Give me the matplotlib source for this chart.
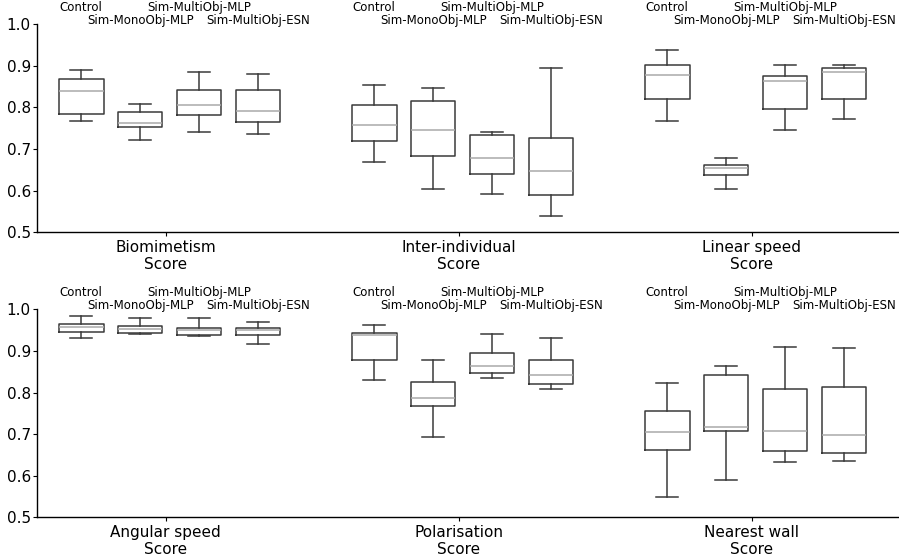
import matplotlib
matplotlib.use('Agg')
import matplotlib.pyplot as plt

# 方法名称（每组四个箱线）
methods = ['Control', 'Sim-MonoObj-MLP', 'Sim-MultiObj-MLP', 'Sim-MultiObj-ESN']

# 每个指标：每行一个方法 (下须, Q1, 中位数, Q3, 上须)
biomimetism = [
    (0.767, 0.784, 0.840, 0.868, 0.889),
    (0.723, 0.752, 0.762, 0.790, 0.808),
    (0.742, 0.783, 0.807, 0.841, 0.885),
    (0.736, 0.765, 0.792, 0.841, 0.881),
]
inter_individual = [
    (0.669, 0.719, 0.759, 0.807, 0.854),
    (0.604, 0.683, 0.745, 0.816, 0.848),
    (0.593, 0.639, 0.679, 0.733, 0.740),
    (0.538, 0.590, 0.647, 0.727, 0.896),
]
linear_speed = [
    (0.767, 0.820, 0.879, 0.901, 0.938),
    (0.603, 0.637, 0.654, 0.661, 0.679),
    (0.746, 0.796, 0.864, 0.876, 0.903),
    (0.773, 0.820, 0.885, 0.896, 0.902),
]
angular_speed = [
    (0.930, 0.946, 0.957, 0.964, 0.984),
    (0.940, 0.943, 0.953, 0.961, 0.978),
    (0.936, 0.939, 0.950, 0.956, 0.978),
    (0.916, 0.938, 0.950, 0.954, 0.970),
]
polarisation = [
    (0.830, 0.877, 0.938, 0.944, 0.963),
    (0.693, 0.767, 0.788, 0.825, 0.877),
    (0.834, 0.848, 0.864, 0.896, 0.940),
    (0.809, 0.821, 0.842, 0.877, 0.930),
]
nearest_wall = [
    (0.550, 0.661, 0.704, 0.756, 0.822),
    (0.590, 0.708, 0.717, 0.843, 0.863),
    (0.632, 0.659, 0.708, 0.808, 0.910),
    (0.635, 0.655, 0.697, 0.814, 0.906),
]

top_labels = ['Biomimetism\nScore', 'Inter-individual\nScore', 'Linear speed\nScore']
bottom_labels = ['Angular speed\nScore', 'Polarisation\nScore', 'Nearest wall\nScore']
top_data = [biomimetism, inter_individual, linear_speed]
bottom_data = [angular_speed, polarisation, nearest_wall]

y_ticks = [0.5, 0.6, 0.7, 0.8, 0.9, 1.0]

# 组内偏移与箱宽（数据坐标）
offsets = [-0.288, -0.087, 0.114, 0.315]
box_width = 0.152
edge_color = '#3a3a3a'
median_color = '#aaaaaa'


def make_stats(values):
    lo, q1, med, q3, hi = values
    return {'whislo': lo, 'q1': q1, 'med': med, 'q3': q3, 'whishi': hi, 'fliers': []}


def draw_row(ax, groups, labels):
    for g, group in enumerate(groups):
        positions = [g + o for o in offsets]
        ax.bxp([make_stats(v) for v in group], positions=positions, widths=box_width,
               showfliers=False, manage_ticks=False,
               boxprops=dict(color=edge_color, linewidth=1.1),
               whiskerprops=dict(color=edge_color, linewidth=1.1),
               capprops=dict(color=edge_color, linewidth=1.1),
               medianprops=dict(color=median_color, linewidth=1.1))
        # 方法名称交错写在箱线上方
        for i, (pos, name) in enumerate(zip(positions, methods)):
            dy = 9.4 if i % 2 == 0 else 0.3
            ax.annotate(name, xy=(pos, 1.0), xycoords=('data', 'axes fraction'),
                        xytext=(0, dy), textcoords='offset points',
                        ha='center', va='baseline', fontsize=8.5, annotation_clip=False)
    ax.set_xlim(-0.439, 2.503)
    ax.set_ylim(0.5, 1.0)
    ax.set_yticks(y_ticks)
    ax.set_yticklabels([f'{t:.1f}' for t in y_ticks])
    ax.set_xticks([0, 1, 2])
    ax.set_xticklabels(labels, linespacing=1.15)
    ax.tick_params(labelsize=11, length=3, width=0.8, pad=1.5)
    ax.tick_params(axis='x', pad=2.5)
    ax.spines['top'].set_visible(False)
    ax.spines['right'].set_visible(False)
    for s in ('left', 'bottom'):
        ax.spines[s].set_linewidth(1.0)


fig = plt.figure(figsize=(8.99, 5.58), dpi=100)
ax_top = fig.add_axes([0.0412, 0.5837, 0.9588, 0.3728])
ax_bottom = fig.add_axes([0.0412, 0.0729, 0.9588, 0.3728])
draw_row(ax_top, top_data, top_labels)
draw_row(ax_bottom, bottom_data, bottom_labels)

fig.savefig('out.png', dpi=100)
